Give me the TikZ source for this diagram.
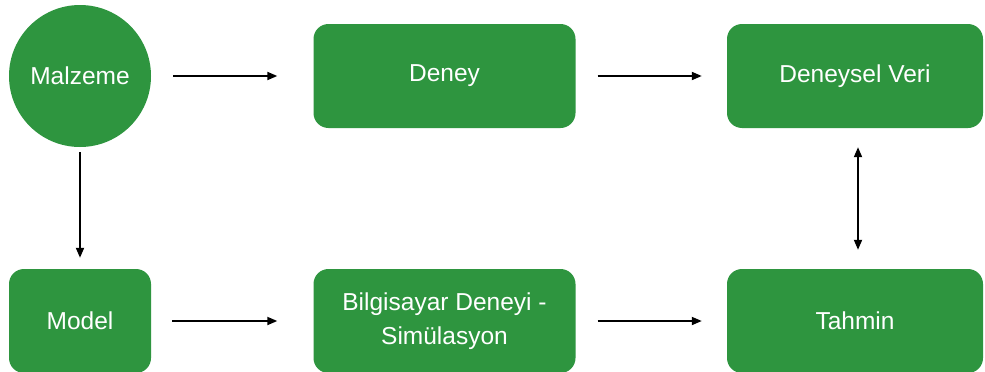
\documentclass[tikz,border=0pt]{standalone}
\usepackage{fontspec}
\setmainfont{Liberation Sans}
\usetikzlibrary{arrows.meta}
\definecolor{boxgreen}{RGB}{46,149,63}
\begin{document}
\begin{tikzpicture}[x=1pt,y=-1pt,
  every node/.style={font=\fontsize{24.5}{34}\selectfont, text=white},
  greenbox/.style={fill=boxgreen, rounded corners=15pt, inner sep=0pt, align=center},
  greencircle/.style={fill=boxgreen, circle, minimum size=142pt, inner sep=0pt},
  arr/.style={line width=1.8pt, -{Triangle[length=10pt,width=8pt]}},
  dblarr/.style={line width=1.8pt, {Triangle[length=10pt,width=8pt]}-{Triangle[length=10pt,width=8pt]}}
]
\useasboundingbox[fill=white] (0,0) rectangle (985,372);
\node[greencircle] (malzeme) at (80,76) {Malzeme};
\node[greenbox, minimum width=262pt, minimum height=104pt] (deney) at (444.5,76) {Deney};
\node[greenbox, minimum width=256pt, minimum height=104pt] (veri) at (855,76) {Deneysel Veri};
\node[greenbox, minimum width=142pt, minimum height=104pt] (model) at (80,321) {Model};
\node[greenbox, minimum width=262pt, minimum height=104pt] (bilg) at (444.5,321) {Bilgisayar Deneyi -\\Simülasyon};
\node[greenbox, minimum width=256pt, minimum height=104pt] (tahmin) at (855,321) {Tahmin};
\draw[arr] ([xshift=22pt]malzeme.east) -- ([xshift=-36pt]deney.west);
\draw[arr] ([xshift=22pt]deney.east) -- ([xshift=-25pt]veri.west);
\draw[arr] ([xshift=21pt]model.east) -- ([xshift=-36pt]bilg.west);
\draw[arr] ([xshift=22pt]bilg.east) -- ([xshift=-25pt]tahmin.west);
\draw[arr] ([yshift=-5pt]malzeme.south) -- ([yshift=11pt]model.north);
\draw[dblarr] ([xshift=3pt,yshift=-19pt]veri.south) -- ([xshift=3pt,yshift=19pt]tahmin.north);
\end{tikzpicture}
\end{document}
